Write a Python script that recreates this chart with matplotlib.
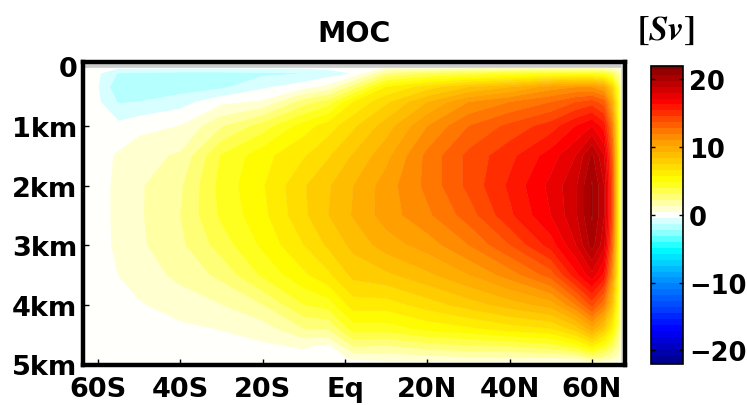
import numpy as np
import matplotlib
matplotlib.use('Agg')
import matplotlib.pyplot as plt
from matplotlib.colors import LinearSegmentedColormap

# latitude of each profile (deg, negative = south) and depth levels (km)
lat = [-63.6, -60, -55, -50, -40, -30, -20, -10, -4, 2, 10, 20, 30, 40,
       50, 56, 60, 63, 65, 66.5, 67.5, 68]
depth_km = [0, 0.12, 0.35, 0.6, 1.0, 1.5, 2.0, 2.5, 3.0, 3.5, 4.0, 4.4, 4.7, 4.9, 5.0]

# overturning streamfunction [Sv], one profile per latitude (top -> bottom)
col_63S = [0, 0, 0, 0, 0, 0, 0, 0, 0, 0, 0, 0, 0, 0, 0]
col_60S = [0, -0.3, -0.4, -0.3, 0, 0.1, 0.1, 0.1, 0.1, 0.1, 0.05, 0, 0, 0, 0]
col_55S = [0, -1.4, -2.0, -1.4, -0.2, 0.55, 0.65, 0.65, 0.62, 0.45, 0.2, 0.05, 0, 0, 0]
col_50S = [0, -1.5, -2.0, -1.3, 0.15, 1.0, 1.2, 1.2, 1.15, 0.85, 0.35, 0.1, 0, 0, 0]
col_40S = [0, -1.6, -1.8, -0.8, 0.45, 1.45, 2.05, 2.2, 2.0, 1.55, 0.85, 0.25, 0.08, 0, 0]
col_30S = [0, -1.6, -1.5, 0.2, 2.1, 4.05, 4.3, 4.15, 3.5, 2.45, 1.3, 0.48, 0.13, 0, 0]
col_20S = [0, -1.5, -0.6, 0.55, 3.5, 5.4, 5.63, 5.46, 5.02, 4.14, 2.2, 0.88, 0.26, 0.04, 0]
col_10S = [0, -1.35, 0.1, 2.64, 5.28, 6.51, 7.39, 7.3, 6.6, 5.54, 3.96, 2.2, 0.53, 0.09, 0]
col_4S = [0, -0.9, 0.7, 3.52, 6.16, 7.39, 8.27, 8.36, 7.66, 6.42, 4.4, 2.29, 0.18, 0.04, 0]
col_2N = [0, -0.4, 2.64, 5.72, 7.3, 8.45, 9.24, 9.33, 8.62, 7.74, 6.16, 4.4, 2.2, 0.53, 0]
col_10N = [0, 2.2, 5.72, 7.3, 8.8, 9.86, 10.56, 10.56, 9.68, 8.18, 6.16, 4.4, 2.02, 0.7, 0]
col_20N = [0, 3.08, 7.04, 9.24, 11.0, 12.14, 12.14, 11.7, 10.56, 9.06, 7.04, 5.1, 2.64, 0.88, 0]
col_30N = [0, 3.52, 8.36, 11.0, 12.76, 13.9, 13.9, 13.2, 11.88, 10.12, 7.92, 5.54, 2.9, 1.06, 0]
col_40N = [0, 3.96, 9.24, 11.88, 13.9, 15.14, 15.58, 15.22, 13.64, 11.44, 8.8, 6.16, 3.08, 1.06, 0]
col_50N = [0, 4.4, 10.56, 12.76, 14.96, 16.72, 17.42, 17.16, 15.84, 13.2, 9.68, 6.6, 3.52, 1.14, 0]
col_56N = [0, 4.4, 11.0, 13.64, 16.28, 18.04, 18.74, 18.74, 18.0, 16.0, 11.9, 7.92, 4.4, 1.32, 0]
col_60N = [0, 4.4, 11.0, 14.08, 17.16, 20.0, 20.8, 20.8, 20.2, 17.8, 14.0, 9.9, 5.72, 2.2, 0]
col_63N = [0, 3.96, 10.12, 13.2, 15.84, 18.04, 18.92, 18.92, 18.3, 16.0, 12.0, 7.92, 4.4, 1.76, 0]
col_65N = [0, 3.08, 7.48, 9.68, 11.88, 13.2, 13.64, 13.64, 12.76, 11.0, 8.36, 5.72, 3.08, 1.32, 0]
col_66N = [0, 1.76, 3.52, 4.4, 4.84, 5.1, 5.1, 5.1, 5.1, 4.84, 3.96, 3.08, 1.76, 0.88, 0]
col_67N = [0, 0, 0, 0, 0, 0, 0, 0, 0, 0, 0, 0, 0, 0, 0]
col_68N = [0, 0, 0, 0, 0, 0, 0, 0, 0, 0, 0, 0, 0, 0, 0]

lat_ticks = [-60, -40, -20, 0, 20, 40, 60]
lat_labels = ['60S', '40S', '20S', 'Eq', '20N', '40N', '60N']
depth_ticks = [0, 1, 2, 3, 4, 5]
depth_labels = ['0', '1km', '2km', '3km', '4km', '5km']
cbar_ticks = [-20, -10, 0, 10, 20]

psi = np.array([col_63S, col_60S, col_55S, col_50S, col_40S, col_30S, col_20S,
                col_10S, col_4S, col_2N, col_10N, col_20N, col_30N, col_40N,
                col_50N, col_56N, col_60N, col_63N, col_65N, col_66N, col_67N,
                col_68N]).T

plt.rcParams['font.family'] = ['DejaVu Sans']
plt.rcParams['font.weight'] = 'bold'
plt.rcParams['mathtext.fontset'] = 'stix'

# blue - white - yellow - red colour scale, +-22 Sv
vmax = 22.0
nodes = [(-22, (0.0, 0.0, 0.5)), (-17, (0.0, 0.0, 1.0)), (-10, (0.0, 0.55, 1.0)),
         (-5, (0.0, 1.0, 1.0)), (-2.5, (0.6, 1.0, 1.0)), (0, (1.0, 1.0, 1.0)),
         (2.5, (1.0, 1.0, 0.5)), (5, (1.0, 1.0, 0.0)), (11, (1.0, 0.6, 0.0)),
         (16.8, (1.0, 0.0, 0.0)), (22, (0.5, 0.0, 0.0))]
cmap = LinearSegmentedColormap.from_list(
    'moc', [((v + vmax) / (2 * vmax), c) for v, c in nodes])
levels = -22.44 + 0.88 * np.arange(52)

W, H = 747, 406
fig = plt.figure(figsize=(W / 100, H / 100), dpi=100)
ax = fig.add_axes([83 / W, 1 - 365.5 / H, (624.5 - 83) / W, (365.5 - 63) / H])

cs = ax.contourf(lat, depth_km, psi, levels=levels, cmap=cmap,
                 vmin=-vmax, vmax=vmax, antialiased=True)
cs.set_edgecolor('face')
cs.set_linewidth(0.3)

# soft grey shadow just inside the top and right frame
ax.plot([0, 1], [0.987, 0.987], transform=ax.transAxes, color='0.8', lw=2.6, zorder=2)
ax.plot([0.9945, 0.9945], [0, 1], transform=ax.transAxes, color='0.88', lw=2.2, zorder=2)

ax.set_xlim(-63.64, 67.9)
ax.set_ylim(5.0, -0.07)
ax.set_xticks(lat_ticks)
ax.set_xticklabels(lat_labels)
ax.set_yticks(depth_ticks)
ax.set_yticklabels(depth_labels)
ax.tick_params(direction='in', length=4, width=1, labelsize=19.5)
ax.tick_params(axis='x', pad=8)
ax.tick_params(axis='y', pad=4)
for sp in ax.spines.values():
    sp.set_linewidth(3.2)
    sp.set_zorder(3)

fig.text(353.75 / W, 1 - 41.7 / H, 'MOC', ha='center', va='baseline',
         fontsize=20.5, fontweight='bold')
fig.text(666 / W, 1 - 39.5 / H, r'$[Sv]$', ha='center', va='baseline',
         fontsize=25, fontweight='normal')

# colorbar
cax = fig.add_axes([650.7 / W, 1 - 365 / H, 32.6 / W, 298.3 / H])
cb = fig.colorbar(cs, cax=cax, ticks=cbar_ticks)
cb.ax.set_ylim(-vmax, vmax)
cb.outline.set_linewidth(1.2)
cax.tick_params(direction='in', length=3, width=1, labelsize=18.5,
                left=True, right=True, pad=4)

fig.savefig('out.png', dpi=100)
